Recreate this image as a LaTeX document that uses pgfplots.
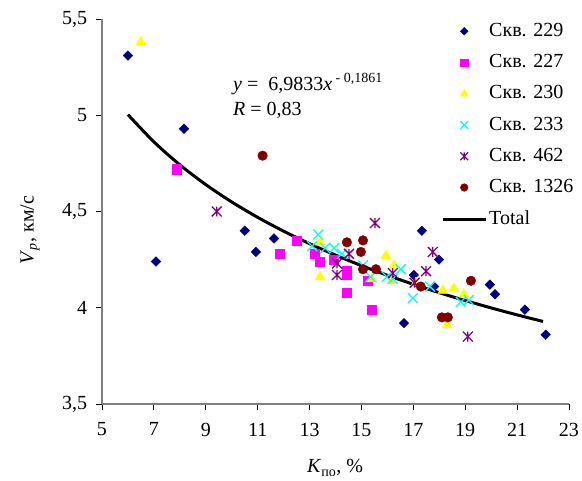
\documentclass[border=0pt]{standalone}
\usepackage{pgfplots}
\pgfplotsset{compat=1.18}
\usepackage{fontspec}
\setmainfont{Liberation Serif}

\definecolor{c229}{RGB}{0,0,128}
\definecolor{c227}{RGB}{255,0,255}
\definecolor{c230}{RGB}{255,255,0}
\definecolor{c233}{RGB}{0,255,255}
\definecolor{c462}{RGB}{128,0,128}
\definecolor{c1326}{RGB}{128,0,0}

% Excel-style star: x plus a vertical bar
\pgfdeclareplotmark{xstar}{%
  \pgfpathmoveto{\pgfqpoint{-.7071\pgfplotmarksize}{-.7071\pgfplotmarksize}}%
  \pgfpathlineto{\pgfqpoint{.7071\pgfplotmarksize}{.7071\pgfplotmarksize}}%
  \pgfpathmoveto{\pgfqpoint{-.7071\pgfplotmarksize}{.7071\pgfplotmarksize}}%
  \pgfpathlineto{\pgfqpoint{.7071\pgfplotmarksize}{-.7071\pgfplotmarksize}}%
  \pgfpathmoveto{\pgfqpoint{0pt}{-.7071\pgfplotmarksize}}%
  \pgfpathlineto{\pgfqpoint{0pt}{.7071\pgfplotmarksize}}%
  \pgfusepathqstroke}

\begin{document}
\fontsize{20}{24}\selectfont
\begin{tikzpicture}[font=\fontsize{20}{24}\selectfont]
\useasboundingbox (-102pt,-77pt) rectangle (480pt,404pt);
\begin{axis}[
    at={(0,0)}, anchor=south west,
    scale only axis, width=467pt, height=385pt,
    xmin=5, xmax=23, ymin=3.5, ymax=5.5,
    xtick={5,7,...,23}, ytick={3.5,4,4.5,5,5.5},
    axis x line*=bottom, axis y line*=left,
    axis line style={gray, line width=1.2pt, -},
    tick align=outside, major tick length=6pt,
    tick style={black, line width=0.8pt},
    /pgf/number format/use comma,
    /pgf/number format/assume math mode=true,
    xticklabel style={yshift=-6pt},
    yticklabel style={xshift=-2pt},
    xlabel={\textit{K}\textsubscript{по}, \%},
    ylabel={\textit{V}\textsubscript{\textit{p}}, км/с},
    xlabel style={at={(axis description cs:0.499,-0.166)}, anchor=center},
    ylabel style={at={(axis description cs:-0.154,0.452)}, anchor=center},
    clip=false,
    legend style={draw=none, fill=none, at={(0.726,0.995)}, anchor=north west,
        inner sep=0pt, row sep=11pt},
    legend cell align=left,
    legend image code/.code={\path (0pt,0pt) (43pt,0pt);
        \draw[mark repeat=2,mark phase=2,#1,
        /tikz/every mark/.append style={scale=0.8}]
        plot coordinates {(0pt,0pt) (21.5pt,0pt) (43pt,0pt)};},
]
\addplot[only marks, mark=square*, color=c229, mark size=3.4pt,
    mark options={rotate=45}] coordinates {
  (6.0,5.31) (8.16,4.93) (7.08,4.24) (10.5,4.40) (11.63,4.36) (10.93,4.29)
  (17.33,4.40) (17.99,4.25) (17.02,4.17) (17.8,4.11) (16.64,3.92)
  (19.95,4.12) (20.15,4.07) (21.3,3.99) (22.1,3.86)};
\addplot[only marks, mark=square*, color=c227, mark size=4.6pt] coordinates {
  (7.89,4.72) (11.86,4.28) (12.5,4.35) (13.2,4.28) (13.4,4.24) (13.94,4.25)
  (14.44,4.19) (14.44,4.17) (14.44,4.08) (15.24,4.14) (15.4,3.99)};
\addplot[only marks, mark=triangle*, color=c230, mark size=5.8pt] coordinates {
  (6.5,5.38) (13.4,4.34) (13.4,4.16) (15.94,4.27) (16.25,4.22) (16.17,4.14)
  (15.4,4.15) (17.1,4.13) (18.14,4.09) (18.56,4.10) (18.95,4.07) (18.3,3.91)};
\addplot[only marks, mark=x, color=c233, mark size=7pt, line width=1.3pt] coordinates {
  (13.33,4.38) (13.1,4.32) (13.6,4.31) (13.95,4.31) (14.25,4.28) (15.06,4.22)
  (15.35,4.16) (15.98,4.16) (16.52,4.20) (16.21,4.15) (16.98,4.05)
  (17.64,4.11) (18.83,4.03) (19.14,4.04)};
\addplot[only marks, mark=xstar, color=c462, mark size=7pt, line width=1.3pt] coordinates {
  (9.42,4.50) (15.52,4.44) (14.52,4.28) (14.06,4.23) (14.06,4.17)
  (16.21,4.18) (17.49,4.19) (17.75,4.29) (17.05,4.13) (19.1,3.85)};
\addplot[only marks, mark=*, color=c1326, mark size=4.8pt] coordinates {
  (11.19,4.79) (14.44,4.34) (15.06,4.35) (14.98,4.29) (15.06,4.20)
  (15.56,4.20) (17.29,4.11) (18.1,3.95) (18.33,3.95) (19.22,4.14)};
\addplot[black, line width=3pt, smooth, no marks] coordinates {
  (6,5.0032) (7,4.8618) (8,4.7425) (9,4.6397) (10,4.5496) (11,4.4696)
  (12,4.3978) (13,4.3328) (14,4.2734) (15,4.2189) (16,4.1686) (17,4.1218)
  (18,4.0782) (19,4.0374) (20,3.9991) (21,3.9629) (22,3.9287)};
\legend{Скв. 229, Скв. 227, Скв. 230, Скв. 233, Скв. 462, Скв. 1326, Total}
\node[anchor=base west, inner sep=0pt] at (rel axis cs:0.2805,0.815)
  {\textit{y} = \ 6,9833\textit{x}\textsuperscript{ - 0,1861}};
\node[anchor=base west, inner sep=0pt] at (rel axis cs:0.2805,0.75)
  {\textit{R} = 0,83};
\end{axis}
\end{tikzpicture}
\end{document}
